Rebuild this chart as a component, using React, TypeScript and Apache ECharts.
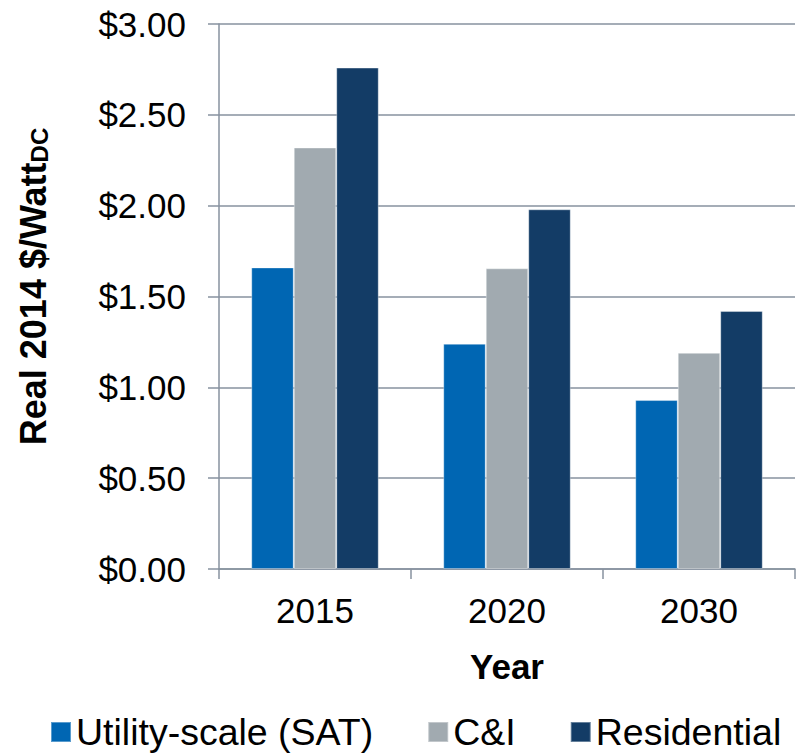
import React, { useEffect, useRef } from "react";
import * as echarts from "echarts";

const categories = ["2015", "2020", "2030"];
const seriesNames = ["Utility-scale (SAT)", "C&I", "Residential"];
const utilityValues = [1.66, 1.24, 0.93];
const ciValues = [2.32, 1.655, 1.19];
const residentialValues = [2.76, 1.98, 1.42];
const yTicks = [0, 0.5, 1.0, 1.5, 2.0, 2.5, 3.0];

const COLORS = ["#0066B3", "#A1AAB0", "#133C66"];
const AXIS_COLOR = "#87929F";
const FONT = "Liberation Sans, Arial, Helvetica, sans-serif";

export default function App() {
  const ref = useRef<HTMLDivElement>(null);

  useEffect(() => {
    if (!ref.current) return;
    const chart = echarts.init(ref.current, null, { renderer: "svg" });
    const values = [utilityValues, ciValues, residentialValues];
    chart.setOption({
      animation: false,
      backgroundColor: "#ffffff",
      textStyle: { fontFamily: FONT },
      grid: { left: 219, right: 16, top: 24, bottom: 187, containLabel: false },
      legend: {
        data: seriesNames,
        left: 50,
        top: 713,
        padding: 0,
        icon: "rect",
        itemWidth: 20,
        itemHeight: 20,
        itemGap: 54,
        selectedMode: false,
        textStyle: { fontSize: 37.5, lineHeight: 38, color: "#000", fontFamily: FONT },
      },
      xAxis: {
        type: "category",
        data: categories,
        name: "Year",
        nameLocation: "middle",
        nameGap: 80,
        nameTextStyle: { fontSize: 35, fontWeight: "bold", color: "#000", fontFamily: FONT },
        axisLine: { show: true, lineStyle: { color: AXIS_COLOR, width: 1.5 } },
        axisTick: { show: true, length: 10, alignWithLabel: false, lineStyle: { color: AXIS_COLOR, width: 1.5 } },
        axisLabel: { fontSize: 35, color: "#000", margin: 24, fontFamily: FONT },
        splitLine: { show: false },
      },
      yAxis: {
        type: "value",
        min: yTicks[0],
        max: yTicks[yTicks.length - 1],
        interval: 0.5,
        name: "{a|Real 2014 $/Watt}{b|DC}",
        nameLocation: "middle",
        nameGap: 168,
        nameRotate: 90,
        nameTextStyle: {
          color: "#000",
          padding: [0, 0, 0, 20],
          rich: {
            a: { fontSize: 36, fontWeight: "bold", color: "#000", fontFamily: FONT },
            b: { fontSize: 24, fontWeight: "bold", color: "#000", fontFamily: FONT, verticalAlign: "bottom", padding: [12, 0, 0, 0] },
          },
        },
        axisLine: { show: true, lineStyle: { color: AXIS_COLOR, width: 1.5 } },
        axisTick: { show: true, length: 11, inside: false, lineStyle: { color: AXIS_COLOR, width: 1.5 } },
        axisLabel: {
          fontSize: 35,
          color: "#000",
          margin: 33,
          fontFamily: FONT,
          formatter: (v: number) => "$" + v.toFixed(2),
        },
        splitLine: { show: true, lineStyle: { color: AXIS_COLOR, width: 1.5 } },
      },
      series: seriesNames.map((name, i) => ({
        name,
        type: "bar",
        data: values[i],
        barGap: "0%",
        barCategoryGap: "33.6%",
        itemStyle: { color: COLORS[i], borderColor: "rgba(255,255,255,0.35)", borderWidth: 1 },
      })),
    });
    return () => chart.dispose();
  }, []);

  return (
    <div
      ref={ref}
      style={{ position: "fixed", left: 0, top: 0, width: 811, height: 756, background: "#fff" }}
    />
  );
}
